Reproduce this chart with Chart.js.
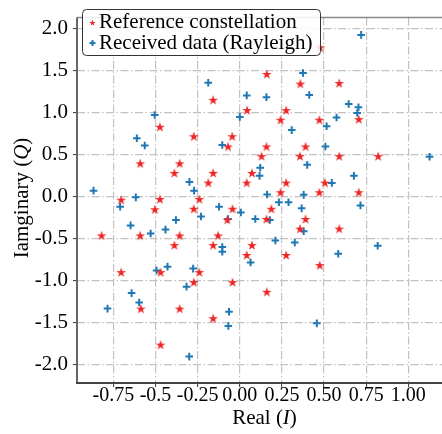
<!DOCTYPE html>
<html>
<head>
<meta charset="utf-8">
<script src="https://cdn.jsdelivr.net/npm/chart.js@4.4.0/dist/chart.umd.min.js"></script>
<style>
  html, body { margin: 0; padding: 0; background: #fff; overflow: hidden; width: 442px; height: 434px; }
  canvas { display: block; }
</style>
</head>
<body>
<canvas id="c" width="458" height="434"></canvas>
<script>
// ---- data ----
var refI = [-0.158, 0.043, -0.474, -0.273, -0.045, 0.476, 0.160, 0.359, 0.590, 0.706, 0.275, 0.242, 0.472,
  -0.070, -0.591, -0.357, -0.388, -0.158, 0.072, 0.041, -0.187, -0.704, -0.474, -0.240, -0.504, -0.273,
  -0.043, -0.074, -0.820, -0.591, -0.357, -0.129, -0.388, -0.158, 0.072, 0.041, 0.158, 0.390, 0.129,
  0.357, 0.590, 0.821, 0.275, 0.505, 0.242, 0.472, 0.706, 0.187, 0.158, 0.390, 0.357, 0.590, 0.275,
  -0.704, -0.470, -0.240, -0.273, -0.043, -0.587, -0.357, -0.158, -0.470, 0.474, 0.160];
var refQ = [1.148, 1.025, 0.826, 0.714, 0.714, 1.773, 1.455, 1.340, 1.347, 0.918, 1.025, 0.910, 0.910,
  0.592, 0.392, 0.392, 0.277, 0.277, 0.277, 0.162, 0.162, -0.041, -0.034, -0.034, -0.156, -0.149,
  -0.149, -0.279, -0.467, -0.467, -0.467, -0.467, -0.582, -0.582, -0.582, -0.700, 0.592, 0.592, 0.477,
  0.477, 0.477, 0.477, 0.162, 0.162, 0.047, 0.047, 0.047, -0.149, -0.271, -0.271, -0.386, -0.386, -0.700,
  -0.904, -0.904, -0.904, -1.023, -1.023, -1.338, -1.338, -1.453, -1.767, -0.820, -1.138];

var rxI = [-0.187, 0.041, 0.000, -0.505, -0.611, 0.720, 0.375, 0.158, 0.412, 0.646, 0.704, 0.697, 0.574,
  0.515, 0.308, -0.564, -0.104, -0.299, -0.271, -0.868, -0.617, -0.710, -0.123, -0.230, 0.006, -0.070,
  0.092, -0.379, -0.648, -0.441, -0.529, -0.104, -0.104, 0.508, 1.126, 0.400, 0.121, 0.117, 0.677,
  0.546, 0.162, 0.379, 0.232, 0.289, 0.716, 0.367, 0.178, 0.379, 0.211, 0.326, 0.818, 0.584, 0.064,
  -0.494, -0.429, -0.277, -0.316, -0.642, -0.597, -0.785, -0.064, -0.068, -0.300, 0.457];
var rxQ = [1.350, 1.200, 0.944, 0.967, 0.690, 1.920, 1.466, 1.179, 1.205, 1.098, 1.059, 0.990, 0.937,
  0.833, 0.787, 0.603, 0.610, 0.170, 0.066, 0.066, -0.014, -0.126, -0.126, -0.241, -0.195, -0.271,
  -0.271, -0.283, -0.348, -0.398, -0.444, -0.605, -0.662, 0.592, 0.469, 0.373, 0.339, 0.242, 0.242,
  0.158, 0.020, 0.016, -0.072, -0.072, -0.110, -0.145, -0.283, -0.417, -0.528, -0.552, -0.590, -0.686, -0.789,
  -0.885, -0.839, -0.862, -1.077, -1.154, -1.265, -1.338, -1.376, -1.545, -1.910, -1.514];

var xTickValues = [-0.75, -0.5, -0.25, 0, 0.25, 0.5, 0.75, 1.0];
var xTickLabels = ["-0.75", "-0.5", "-0.25", "0.00", "0.25", "0.50", "0.75", "1.00"];
var yTickValues = [-2, -1.5, -1, -0.5, 0, 0.5, 1, 1.5, 2];
var yTickLabels = ["-2.0", "-1.5", "-1.0", "-0.5", "0.0", "0.5", "1.0", "1.5", "2.0"];

var legendLabels = ["Reference constellation", "Received data (Rayleigh)"];

var RED = "#ee2626";
var BLUE = "#1f77b4";
var FONT = "'Liberation Serif', 'Times New Roman', serif";

function pts(xs, ys) {
  return xs.map(function (x, i) { return { x: x, y: ys[i] }; });
}

function drawStar(ctx, cx, cy, R, color) {
  var r = R * 0.382;
  ctx.beginPath();
  for (var k = 0; k < 10; k++) {
    var a = -Math.PI / 2 + k * Math.PI / 5;
    var rad = (k % 2 === 0) ? R : r;
    var px = cx + rad * Math.cos(a), py = cy + rad * Math.sin(a);
    if (k === 0) ctx.moveTo(px, py); else ctx.lineTo(px, py);
  }
  ctx.closePath();
  ctx.fillStyle = color;
  ctx.fill();
}

function drawPlus(ctx, cx, cy, h, color) {
  ctx.beginPath();
  ctx.moveTo(cx - h, cy); ctx.lineTo(cx + h, cy);
  ctx.moveTo(cx, cy - h); ctx.lineTo(cx, cy + h);
  ctx.strokeStyle = color;
  ctx.lineWidth = 2;
  ctx.stroke();
}

// star marker as a small canvas image
var starImg = document.createElement("canvas");
starImg.width = 14; starImg.height = 14;
drawStar(starImg.getContext("2d"), 7, 7.5, 5.2, RED);

function tickLabel(values, labels) {
  return function (v) {
    for (var i = 0; i < values.length; i++) {
      if (Math.abs(values[i] - v) < 1e-6) return labels[i];
    }
    return "";
  };
}

// text with italic pieces: parts = [[text, italic], ...]
function mixedWidth(ctx, parts, size) {
  var w = 0;
  parts.forEach(function (p) {
    ctx.font = (p[1] ? "italic " : "") + size + "px " + FONT;
    w += ctx.measureText(p[0]).width;
  });
  return w;
}
function drawMixed(ctx, parts, size, x, y) {
  parts.forEach(function (p) {
    ctx.font = (p[1] ? "italic " : "") + size + "px " + FONT;
    ctx.fillText(p[0], x, y);
    x += ctx.measureText(p[0]).width;
  });
}

var frame = {
  id: "frame",
  afterDatasetsDraw: function (chart) {
    var ctx = chart.ctx, a = chart.chartArea;
    ctx.save();
    ctx.lineWidth = 1.5;
    ctx.strokeStyle = "#8a8a8a";
    ctx.beginPath(); ctx.moveTo(a.left, a.top); ctx.lineTo(a.right, a.top); ctx.stroke();
    ctx.lineWidth = 2;
    ctx.strokeStyle = "#666";
    ctx.beginPath(); ctx.moveTo(a.left, a.top); ctx.lineTo(a.left, a.bottom + 1); ctx.stroke();
    ctx.strokeStyle = "#444";
    ctx.beginPath(); ctx.moveTo(a.left - 1, a.bottom); ctx.lineTo(a.right, a.bottom); ctx.stroke();
    ctx.restore();
  },
  afterDraw: function (chart) {
    var ctx = chart.ctx, a = chart.chartArea;
    ctx.save();
    ctx.fillStyle = "#000";
    ctx.textBaseline = "alphabetic";
    // axis titles
    var xt = [["Real (", false], ["I", true], [")", false]];
    var w = mixedWidth(ctx, xt, 21);
    drawMixed(ctx, xt, 21, (a.left + a.right) / 2 - w / 2, 424);
    var yt = [["Iamginary (", false], ["Q", true], [")", false]];
    w = mixedWidth(ctx, yt, 21);
    ctx.save();
    ctx.translate(28, 198);
    ctx.rotate(-Math.PI / 2);
    drawMixed(ctx, yt, 21, -w / 2, 0);
    ctx.restore();

    // legend box
    var bx = 82.5, by = 9.5, bw = 238, bh = 46, rr = 4;
    ctx.beginPath();
    ctx.moveTo(bx + rr, by);
    ctx.arcTo(bx + bw, by, bx + bw, by + bh, rr);
    ctx.arcTo(bx + bw, by + bh, bx, by + bh, rr);
    ctx.arcTo(bx, by + bh, bx, by, rr);
    ctx.arcTo(bx, by, bx + bw, by, rr);
    ctx.closePath();
    ctx.fillStyle = "rgba(255,255,255,0.85)";
    ctx.fill();
    ctx.strokeStyle = "#333";
    ctx.lineWidth = 1;
    ctx.stroke();

    drawStar(ctx, 92.5, 23, 3.4, RED);
    drawPlus(ctx, 92.5, 43, 3, BLUE);
    ctx.fillStyle = "#000";
    ctx.font = "21px " + FONT;
    ctx.fillText(legendLabels[0], 99, 28);
    ctx.fillText(legendLabels[1], 99, 49);
    ctx.restore();
  }
};

var gridStyle = {
  color: "#c2c2c2",
  lineWidth: 1.2,
  tickLength: 4,
  tickColor: "#333",
  tickWidth: 1
};

new Chart(document.getElementById("c"), {
  type: "scatter",
  data: {
    datasets: [
      {
        label: legendLabels[0],
        data: pts(refI, refQ),
        pointStyle: starImg,
        pointRadius: 5,
        pointHoverRadius: 5
      },
      {
        label: legendLabels[1],
        data: pts(rxI, rxQ),
        pointStyle: "cross",
        pointRadius: 3.8,
        pointHoverRadius: 3.8,
        borderColor: BLUE,
        backgroundColor: BLUE,
        borderWidth: 2
      }
    ]
  },
  options: {
    responsive: false,
    animation: false,
    events: [],
    layout: { padding: { top: 5, right: 1, left: 0, bottom: 0 } },
    plugins: { legend: { display: false }, tooltip: { enabled: false } },
    scales: {
      x: {
        type: "linear",
        min: -0.966, max: 1.259,
        ticks: {
          stepSize: 0.25, includeBounds: false, autoSkip: false, maxRotation: 0,
          padding: -3, color: "#000", font: { family: FONT, size: 20 },
          callback: tickLabel(xTickValues, xTickLabels)
        },
        grid: gridStyle,
        border: { display: false, dash: [8, 2.5, 1.5, 2.5] },
        afterFit: function (s) { s.height = 51; }
      },
      y: {
        type: "linear",
        min: -2.224, max: 2.126,
        ticks: {
          stepSize: 0.5, includeBounds: false, autoSkip: false,
          padding: 5, color: "#000", font: { family: FONT, size: 21 },
          callback: tickLabel(yTickValues, yTickLabels)
        },
        grid: gridStyle,
        border: { display: false, dash: [8, 2.5, 1.5, 2.5] },
        afterFit: function (s) { s.width = 77; }
      }
    }
  },
  plugins: [frame]
});
</script>
</body>
</html>
